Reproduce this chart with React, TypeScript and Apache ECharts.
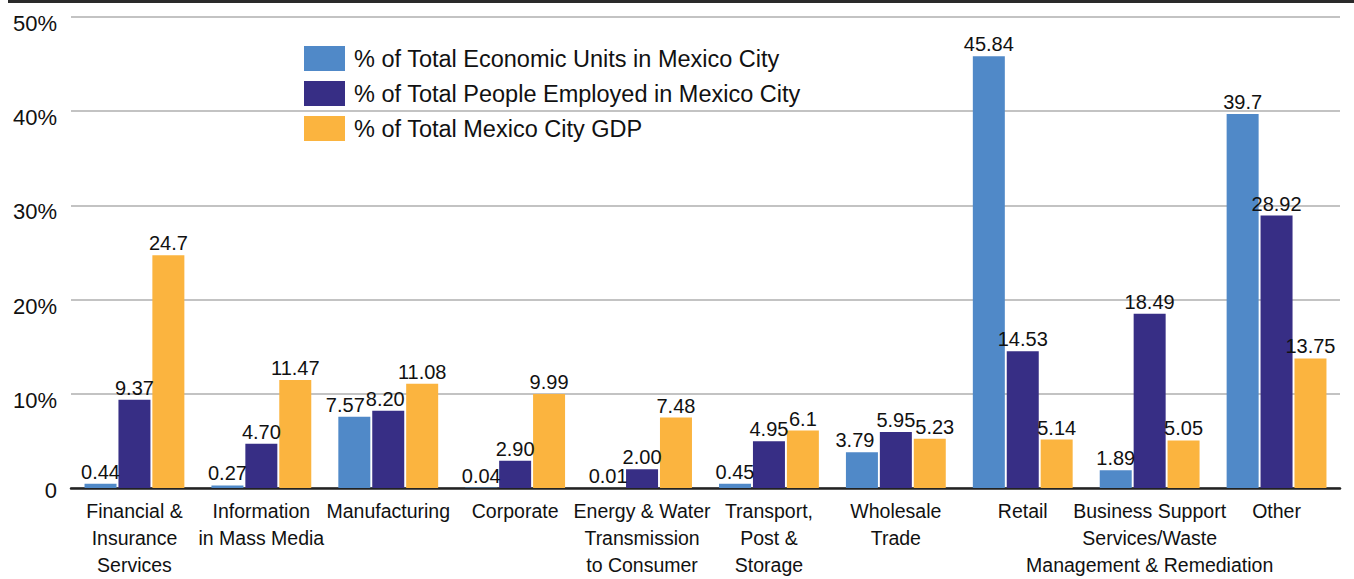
import React, { useEffect, useRef } from "react";
import * as echarts from "echarts";

const categories = [
  "Financial &\nInsurance\nServices",
  "Information\nin Mass Media",
  "Manufacturing",
  "Corporate",
  "Energy & Water\nTransmission\nto Consumer",
  "Transport,\nPost &\nStorage",
  "Wholesale\nTrade",
  "Retail",
  "Business Support\nServices/Waste\nManagement & Remediation",
  "Other",
];

const seriesNames = [
  "% of Total Economic Units in Mexico City",
  "% of Total People Employed in Mexico City",
  "% of Total Mexico City GDP",
];

const economicUnits = ["0.44", "0.27", "7.57", "0.04", "0.01", "0.45", "3.79", "45.84", "1.89", "39.7"];
const peopleEmployed = ["9.37", "4.70", "8.20", "2.90", "2.00", "4.95", "5.95", "14.53", "18.49", "28.92"];
const gdpShare = ["24.7", "11.47", "11.08", "9.99", "7.48", "6.1", "5.23", "5.14", "5.05", "13.75"];

const colors = ["#5089c8", "#372e85", "#fbb43f"];

// small horizontal nudges of crowded value labels, as in the reference (series index, category index, dx)
const labelNudges: [number, number, number][] = [
  [0, 2, -9],
  [1, 2, -3],
  [0, 6, -7],
  [2, 6, 5],
];

const FONT = '"Liberation Sans", Arial, sans-serif';

export default function App() {
  const ref = useRef<HTMLDivElement>(null);

  useEffect(() => {
    if (!ref.current) return;
    const chart = echarts.init(ref.current, null, { renderer: "svg" });
    const all = [economicUnits, peopleEmployed, gdpShare];
    const series = all.map((arr, si) => ({
      name: seriesNames[si],
      type: "bar",
      barWidth: 32,
      barGap: "6%",
      itemStyle: { color: colors[si] },
      data: arr.map((s, ci) => {
        const nudge = labelNudges.find((n) => n[0] === si && n[1] === ci);
        const item: any = { value: Number(s) };
        if (nudge) item.label = { offset: [nudge[2], 0] };
        return item;
      }),
      label: {
        show: true,
        position: "top",
        distance: 3,
        color: "#111",
        fontFamily: FONT,
        fontSize: 20,
        lineHeight: 18,
        formatter: (p: any) => arr[p.dataIndex],
      },
    }));

    chart.setOption({
      animation: false,
      backgroundColor: "#ffffff",
      textStyle: { fontFamily: FONT },
      grid: { left: 71, right: 14, top: 17, bottom: 91, containLabel: false },
      legend: {
        orient: "vertical",
        left: 304,
        top: 46,
        padding: 0,
        itemWidth: 41,
        itemHeight: 25,
        itemGap: 10,
        icon: "rect",
        data: seriesNames,
        textStyle: { fontSize: 23.5, color: "#111", fontFamily: FONT, padding: [0, 0, 0, 4] },
      },
      xAxis: {
        type: "category",
        data: categories,
        axisLine: { show: true, lineStyle: { color: "#222", width: 2.5 } },
        axisTick: { show: false },
        axisLabel: {
          interval: 0,
          margin: 9,
          color: "#111",
          fontFamily: FONT,
          fontSize: 19.5,
          lineHeight: 27,
          align: "center",
        },
      },
      yAxis: {
        type: "value",
        min: 0,
        max: 50,
        interval: 10,
        axisLine: { show: false },
        axisTick: { show: false },
        splitLine: { lineStyle: { color: "#c3c3c3", width: 2 } },
        axisLabel: {
          margin: 14,
          color: "#111",
          fontFamily: FONT,
          fontSize: 22,
          formatter: (v: number) => (v === 0 ? "{z|0}" : "{p|" + v + "%}"),
          rich: {
            p: { fontSize: 22, color: "#111", fontFamily: FONT, padding: [13, 0, 0, 0] },
            z: { fontSize: 22, color: "#111", fontFamily: FONT, padding: [4, 0, 0, 0] },
          },
        },
      },
      graphic: [
        {
          type: "rect",
          left: 8,
          top: 0,
          shape: { width: 1346, height: 3 },
          style: { fill: "#2a2a2a" },
          silent: true,
        },
      ],
      series,
    });
    return () => chart.dispose();
  }, []);

  return (
    <div
      ref={ref}
      style={{ position: "fixed", left: 0, top: 0, width: 1354, height: 579 }}
    />
  );
}
